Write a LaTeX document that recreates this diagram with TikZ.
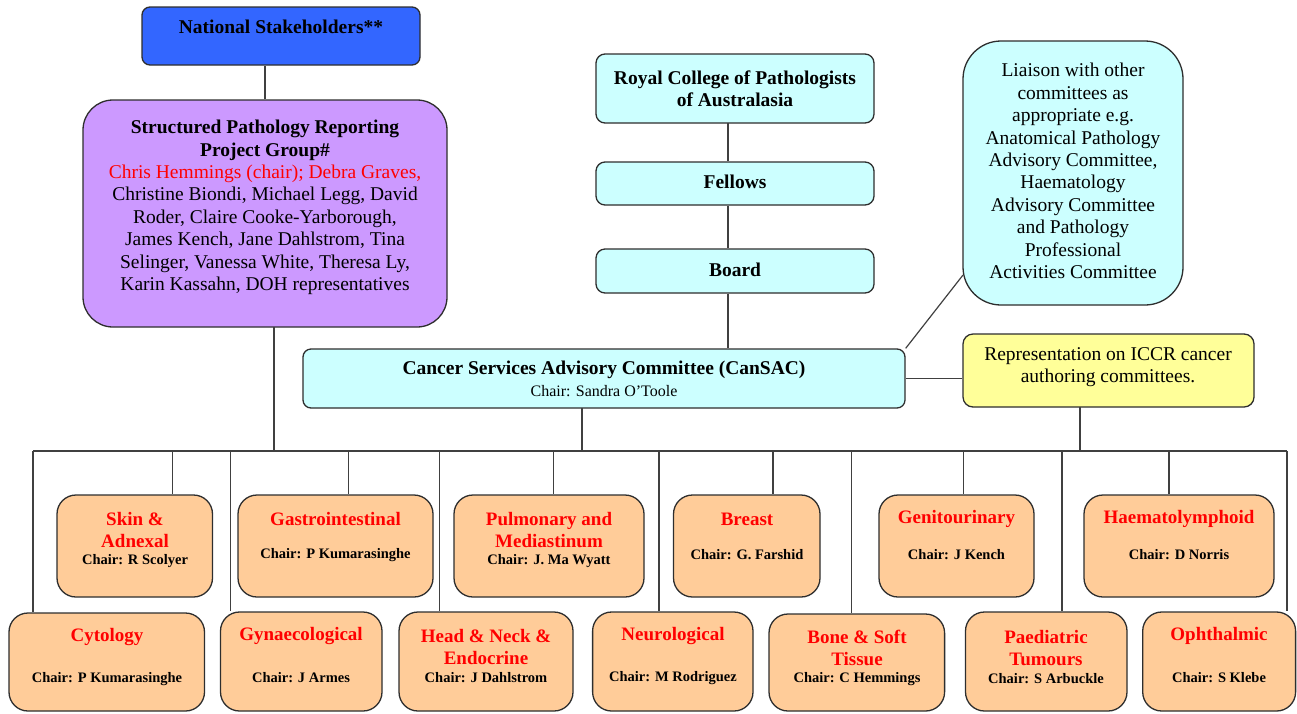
\documentclass[tikz,border=0pt]{standalone}
\usepackage{fontspec}
\setmainfont{Liberation Serif}
\usetikzlibrary{fit}
\definecolor{nsblue}{HTML}{3366FF}
\definecolor{pgpurple}{HTML}{CC99FF}
\definecolor{lcyan}{HTML}{CCFFFF}
\definecolor{lyellow}{HTML}{FFFF99}
\definecolor{lorange}{HTML}{FFCC99}
\definecolor{linegray}{HTML}{404040}
\definecolor{edgegray}{HTML}{2E2E2E}
\definecolor{tred}{HTML}{FF0000}
\tikzset{
  box/.style={draw=edgegray, line width=1.3pt, inner sep=0pt},
  bluebox/.style={box, fill=nsblue, rounded corners=8pt},
  purplebox/.style={box, fill=pgpurple, rounded corners=30pt},
  cyanbox/.style={box, fill=lcyan, rounded corners=9pt},
  liaisonbox/.style={box, fill=lcyan, rounded corners=38pt},
  yellowbox/.style={box, fill=lyellow, rounded corners=10pt},
  orangebox/.style={box, fill=lorange, rounded corners=19pt},
  txt/.style={inner sep=0pt, align=center, font=\fontsize{19.5}{22.4}\selectfont},
  btxt/.style={inner sep=0pt, align=center, font=\fontsize{19.5}{22.4}\selectfont\bfseries},
  otitle/.style={inner sep=0pt, align=center, text=tred, font=\fontsize{19}{21.7}\selectfont\bfseries},
  ochair/.style={inner sep=0pt, align=center, font=\fontsize{14.5}{17}\selectfont\bfseries},
  smalltxt/.style={inner sep=0pt, align=center, font=\fontsize{16}{19}\selectfont},
  link/.style={draw=linegray, line width=1.2pt}
}
\begin{document}
\begin{tikzpicture}[x=1pt,y=-1pt]
\useasboundingbox (0,0) rectangle (1297,713);

% ---------- upper boxes ----------
\node[bluebox, fit={(142,7) (420,65)}] (ns) {};
\node[btxt] (nsT) at (281,27) {National Stakeholders**};

\node[purplebox, fit={(83,100) (447,327)}] (pg) {};
\node[txt] (pgT) at (265,207.5) {\textbf{Structured Pathology Reporting}\\\textbf{Project Group\#}\\\textcolor{tred}{Chris Hemmings (chair); Debra Graves,}\\Christine Biondi, Michael Legg, David\\Roder, Claire Cooke-Yarborough,\\James Kench, Jane Dahlstrom, Tina\\Selinger, Vanessa White, Theresa Ly,\\Karin Kassahn, DOH representatives};

\node[cyanbox, fit={(596,54) (874,123)}] (rcpa) {};
\node[btxt] (rcpaT) at (735,89) {Royal College of Pathologists\\of Australasia};

\node[cyanbox, fit={(596,162) (874,205)}] (fellows) {};
\node[btxt] (fellowsT) at (735,182) {Fellows};

\node[cyanbox, fit={(596,249) (874,293)}] (board) {};
\node[btxt] (boardT) at (735,270) {Board};

\node[liaisonbox, fit={(963,41) (1183,305)}] (liaison) {};
\node[txt] (liaisonT) at (1073,171) {Liaison with other\\committees as\\appropriate e.g.\\Anatomical Pathology\\Advisory Committee,\\Haematology\\Advisory Committee\\and Pathology\\Professional\\Activities Committee};

\node[yellowbox, fit={(963,334) (1254,407)}] (iccr) {};
\node[txt] (iccrT) at (1108,367) {Representation on ICCR cancer\\authoring committees.};

\node[cyanbox, rounded corners=8pt, fit={(303,349) (905,408)}] (cansac) {};
\node[btxt] (cansacT) at (604,369.5) {Cancer Services Advisory Committee (CanSAC)};
\node[smalltxt] (cansacC) at (604,391) {Chair: Sandra O’Toole};

% ---------- top row of committees ----------
\node[orangebox, fit={(57,495) (212.5,597)}] (skin) {};
\node[otitle] (skinT) at (135,530) {Skin \&\\Adnexal};
\node[ochair] (skinC) at (135,561) {Chair: R Scolyer};

\node[orangebox, fit={(238,495) (433,597)}] (gi) {};
\node[otitle] (giT) at (335.5,519) {Gastrointestinal};
\node[ochair] (giC) at (335.5,555) {Chair: P Kumarasinghe};

\node[orangebox, fit={(454,495) (644,597)}] (pulm) {};
\node[otitle] (pulmT) at (549,530) {Pulmonary and\\Mediastinum};
\node[ochair] (pulmC) at (549,561) {Chair: J. Ma Wyatt};

\node[orangebox, fit={(673.5,495) (820,597)}] (breast) {};
\node[otitle] (breastT) at (747,519) {Breast};
\node[ochair] (breastC) at (747,555) {Chair: G. Farshid};

\node[orangebox, fit={(879,495) (1034,597)}] (gu) {};
\node[otitle] (guT) at (956.5,519) {Genitourinary};
\node[ochair] (guC) at (956.5,555) {Chair: J Kench};

\node[orangebox, fit={(1084,495) (1274,597)}] (haem) {};
\node[otitle] (haemT) at (1179,519) {Haematolymphoid};
\node[ochair] (haemC) at (1179,555) {Chair: D Norris};

% ---------- bottom row of committees ----------
\node[orangebox, fit={(9,613) (204.5,711)}] (cyto) {};
\node[otitle] (cytoT) at (107,637) {Cytology};
\node[ochair] (cytoC) at (107,679) {Chair: P Kumarasinghe};

\node[orangebox, fit={(220.5,612) (382,711)}] (gyn) {};
\node[otitle] (gynT) at (301,636) {Gynaecological};
\node[ochair] (gynC) at (301,678) {Chair: J Armes};

\node[orangebox, fit={(399,612) (573,711)}] (hn) {};
\node[otitle] (hnT) at (486,647) {Head \& Neck \&\\Endocrine};
\node[ochair] (hnC) at (486,678) {Chair: J Dahlstrom};

\node[orangebox, fit={(592.6,612) (753,711)}] (neuro) {};
\node[otitle] (neuroT) at (673,636) {Neurological};
\node[ochair] (neuroC) at (673,678) {Chair: M Rodriguez};

\node[orangebox, fit={(769,614) (944.6,711)}] (bone) {};
\node[otitle] (boneT) at (857,648) {Bone \& Soft\\Tissue};
\node[ochair] (boneC) at (857,679) {Chair: C Hemmings};

\node[orangebox, fit={(965.5,612) (1127,711)}] (paed) {};
\node[otitle] (paedT) at (1046,648) {Paediatric\\Tumours};
\node[ochair] (paedC) at (1046,679) {Chair: S Arbuckle};

\node[orangebox, fit={(1142.7,612) (1295.6,711)}] (oph) {};
\node[otitle] (ophT) at (1219,636) {Ophthalmic};
\node[ochair] (ophC) at (1219,678) {Chair: S Klebe};

% ---------- connectors ----------
\coordinate (busL) at (33,451);
\coordinate (busR) at (1287,451);
\draw[link] (busL) -- (busR);

\draw[link] (pg.north) -- (pg.north |- ns.south);
\coordinate (pgOut) at (274,327);
\draw[link] (pgOut) -- (pgOut |- busL);

\coordinate (spine) at (728,123);
\draw[link] (spine) -- (spine |- fellows.north);
\draw[link] (spine |- fellows.south) -- (spine |- board.north);
\draw[link] (spine |- board.south) -- (spine |- cansac.north);

\coordinate (lz) at (963,275);
\draw[link] (cansac.north east) -- (lz);
\draw[link] (cansac.east) -- (iccr.west |- cansac.east);
\coordinate (iccrOut) at (1080,407);
\draw[link] (iccrOut) -- (iccrOut |- busL);
\coordinate (cansacOut) at (582,408);
\draw[link] (cansacOut) -- (cansacOut |- busL);

\foreach \xx/\bx in {33/cyto, 172.6/skin, 230.6/gyn, 348.5/gi, 439.4/hn, 553.5/pulm, 659/neuro, 773/breast, 851.6/bone, 963.8/gu, 1062/paed, 1169/haem, 1287/oph}{
  \coordinate (d\bx) at (\xx,451);
  \draw[link] (d\bx) -- (d\bx |- \bx.north);
}
\end{tikzpicture}
\end{document}
